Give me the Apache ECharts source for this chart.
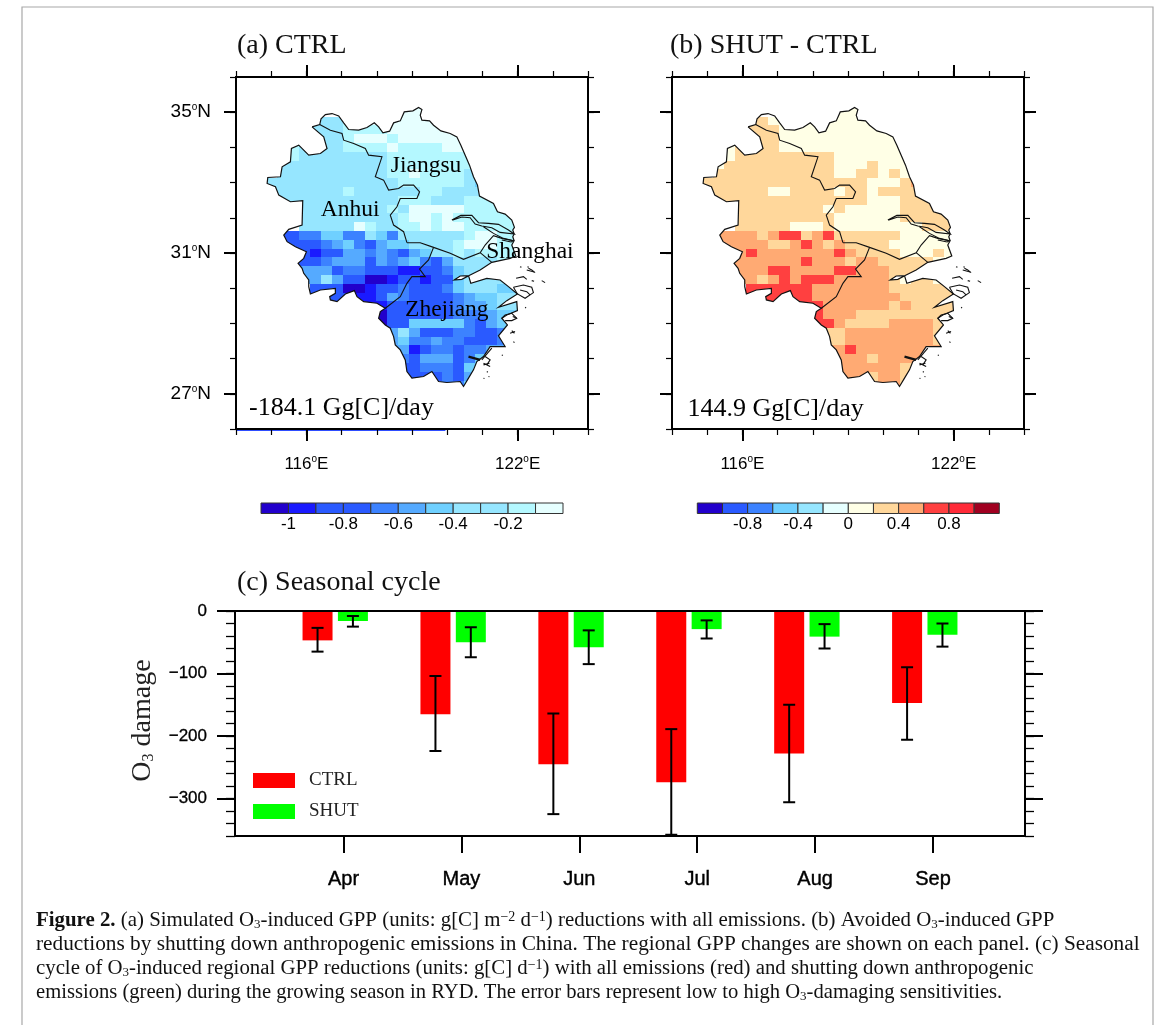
<!DOCTYPE html>
<html><head><meta charset="utf-8">
<style>html,body{margin:0;padding:0;background:#fff}#c{width:1171px;height:1025px}</style>
<script src="https://cdn.jsdelivr.net/npm/echarts@6/dist/echarts.min.js"></script>
</head><body><div id="c"></div>
<script>
// ---------- bar panel data ----------
const months = ['Apr','May','Jun','Jul','Aug','Sep'];
const monthNumbers = [4,5,6,7,8,9];
const ctrlX = [3.78,4.78,5.78,6.78,7.78,8.78];
const shutX = [4.08,5.08,6.08,7.08,8.08,9.08];
const ctrl = [-47,-165,-245,-274,-228,-147];
const ctrlHigh = [-27,-104,-164,-189,-150,-90];
const ctrlLow = [-65,-224,-325,-358,-306,-206];
const shut = [-16,-50,-58,-29,-41,-38];
const shutHigh = [-8,-26,-31,-15,-21,-20];
const shutLow = [-25,-74,-85,-44,-60,-57];
const yMajor = [-300,-200,-100,0];

// ---------- map grid data: one string per 0.25 deg row, one letter per 0.3125 deg column ----------
const firstLat = 35, firstLon = 115, dLat = 0.25, dLon = 0.3125;
const ctrlRows = [
"............www........",
"....cccllwwwwwwww......",
"....cccllllwwwwwwww....",
"....ccclwwwlwwwwwww....",
"..lccccllllwllllwww....",
"..lccccccccllllllll....",
".cccccccccclllllllll...",
".ccccccccccllwllllcc...",
"ccccccccccccllllllcs...",
"ccccccclccccccllcccc...",
".ccccccccccclllccclll..",
"...cccccccclcwwwwwllll.",
"...ccccccccclwwlwllllll",
"...cccccwlccllwlwwlllll",
".ddbbssbbcsbcccccclwwll",
".ddddbmsbdmsscccclwwwll",
"..ddeddmmbmbdmscclcllll",
"...ddbmmmdmbmsbdmccccll",
"...mmmdbbdddeeddbsccc..",
"...mmcmddiieddeddsccccc",
"....dddiieddbdddbscccss",
".....dddeedmbddddbmsscc",
".........eeddddddbmmscc",
"..........iddddddbbbmss",
"..........iddsssssbdms.",
"..........mmcmdddbbddb.",
"...........msbbmbbdddb.",
"...........mmedbbdbbmm.",
"............bdmmmdbss..",
"............ddbbbdss...",
"............ddddbdmm...",
"...............bbbs...."];
const shutRows = [
"............yyy........",
"....ttyyyyyyyyyyy......",
"....tttyyyyyyyyyyyy....",
"....tttyyyyyyyyyyyy....",
"..yttttyyyyyyyyyyyy....",
"..y ttttttttt yyyyyyy....",
". y tttttttttt yyy t yyyy ...",
". ttttttttttt yy tt y t yy ...",
"ttttttttttttttt yyy t o ...",
"tttttt yy tttt y tt y tttt ...",
". tttttttttttttt yyy ttt ..",
"... tttttttt y t yyyyy tttt .",
"... ttttttttt yyyyyy ttttt",
"... ttttt yyy t yyyyyyyy ttt",
". oooo t o rr t o r t ttttt yyyyy",
". ooooo tt o r o t o tttt yyyyyy",
".. oo r ooooooo r o tttt yyy t y",
"... oooooo r ooo t oo ttttt yy",
"... ooo rr oooo rr ooo tttt ..",
"... oo t o r o rrr ooooo t y tt y t",
".... rrrrrr ooooooo tttttt",
"..... rrrrr oooooooo ttttt",
"......... rr oooooo t o tttt",
".......... r ooo ttttttttt",
".......... rr o tttt oooo t .",
"........... tt oooooooo t .",
"........... tt oooooooo t .",
"........... oo r oooooooo .",
"............ ooo t oooo ...",
"............ oooooo tt ...",
"............ ooo t oo tt ...",
"............... ooo t ...."];
const ctrlClassValue = {i:-1.05,e:-0.95,d:-0.75,b:-0.65,m:-0.55,s:-0.45,c:-0.3,l:-0.15,w:-0.05};
const shutClassValue = {y:0.1,t:0.3,o:0.5,r:0.7};

// ---------- colour bars ----------
const ctrlBarLevels = [-1.1,-1,-0.9,-0.8,-0.7,-0.6,-0.5,-0.4,-0.3,-0.2,-0.1];
const ctrlBarColors = ['#2200cc','#1a1aff','#2a5aff','#2a5aff','#3c82ff','#55aaff','#6fd0ff','#96e6ff','#96e6ff','#b4f8ff','#e6ffff'];
const ctrlBarTicks = [-1,-0.8,-0.6,-0.4,-0.2];
const shutBarLevels = [-1.2,-1,-0.8,-0.6,-0.4,-0.2,0,0.2,0.4,0.6,0.8,1];
const shutBarColors = ['#2200cc','#2a5aff','#3c82ff','#6fd0ff','#96e6ff','#e6ffff','#ffffe6','#ffd79b','#ffaa73','#ff4040','#ff2a38','#a00020'];
const shutBarTicks = [-0.8,-0.4,0,0.4,0.8];

// ---------- geography, digitised in map units (georeferenced by mapToGeo below) ----------
const coast = [[245,170],[268,163],[272,146],[285,133],[305,130],[325,137],[340,158],[355,178],[385,180],[410,172],[432,158],[445,170],[458,188],[478,183],[490,158],[510,152],[522,125],[548,122],[565,112],[575,118],[570,135],[575,150],[598,152],[610,165],[632,182],[660,190],[680,200],[692,225],[705,255],[718,285],[730,320],[742,345],[748,378],[790,400],[802,425],[825,432],[845,450],[853,472],[848,480],[852,492],[848,500],[852,512],[845,525],[857,558],[840,565],[785,577],[750,600],[720,615],[695,628],[672,630],[690,618],[715,617],[722,640],[770,625],[810,630],[835,650],[862,672],[830,692],[805,712],[860,695],[862,722],[830,735],[815,745],[832,765],[805,798],[825,830],[780,830],[760,860],[740,875],[730,900],[715,925],[700,950],[690,935],[650,938],[625,935],[605,905],[580,920],[545,925],[530,905],[525,870],[510,840],[495,825],[490,800],[480,775],[465,765],[445,745],[450,725],[465,715],[440,700],[400,695],[380,680],[372,662],[345,672],[320,695],[300,690],[298,680],[315,670],[315,655],[270,660],[240,672],[235,650],[235,630],[220,610],[215,595],[203,580],[220,565],[228,545],[195,530],[170,515],[160,495],[175,478],[215,465],[217,392],[180,395],[145,375],[135,350],[110,340],[112,322],[150,320],[155,290],[180,275],[183,235],[205,225],[235,255],[270,250],[290,235],[280,200],[245,170]];
const borders = [
 [[268,163],[300,180],[335,190],[340,210],[370,220],[405,235],[415,255],[455,260],[435,320],[460,330],[475,360],[505,355],[520,345],[550,345],[568,365],[560,385],[510,385],[500,410],[480,435],[490,465],[520,485],[530,518]],
 [[530,518],[570,518],[610,532],[660,550],[700,568],[750,548],[765,525],[790,497],[815,505],[850,512]],
 [[610,532],[595,570],[568,597],[585,620],[545,620],[530,640],[510,680],[465,715]],
 [[750,548],[785,577]],
 [[665,450],[692,436],[725,436],[745,458],[775,460],[805,463],[835,480],[852,492],[810,487],[785,473],[755,468],[735,462],[720,443],[695,441],[668,450]],
 [[760,470],[790,490],[820,505],[850,512],[843,516],[815,510]],
 [[850,652],[880,645],[905,652],[910,668],[885,685],[862,672],[850,652]],
 [[870,590],[874,592]],[[890,600],[912,606]],[[892,590],[896,592]],[[858,625],[880,620],[890,628]],[[935,632],[945,638]],[[905,632],[912,634]],
 [[885,712],[888,714]],[[845,782],[853,790]],[[850,815],[853,818]],[[815,855],[818,857]],[[760,885],[778,880]],[[770,905],[773,907]],[[775,920],[778,921]],[[760,925],[763,926]],
 [[755,870],[785,835]],[[848,740],[860,745]],
 [[815,745],[825,735],[845,730],[860,745],[845,752],[825,752]],[[840,790],[855,785]],[[765,860],[780,870],[770,885]],[[760,880],[780,890]],
 [[895,595],[905,600],[915,608]],[[870,660],[890,665],[900,675]]
];
const heavyCoast = [[[715,860],[750,870]]];
const placeNames = ['Anhui','Jiangsu','Shanghai','Zhejiang'];
const placeLon = [117.24,119.4,122.35,119.99];
const placeLat = [32.22,33.47,31.03,29.39];
const mapToGeo = p => [113.844 + p[0]/105.75, 36.191 - p[1]/105.75];

const lonRange = [114,124], latRange = [26,36];
const serif = 'Liberation Serif', sans = 'Liberation Sans';

function cellData(rows, cls){
  const out = [];
  rows.forEach((row,r)=>{
    row.replace(/ /g,'').split('').forEach((ch,c)=>{
      if(cls[ch]!==undefined) out.push([firstLon+c*dLon, firstLat-r*dLat, cls[ch]]);
    });
  });
  return out;
}
const colorOf = (v, levels, colors) => {
  let k = 0; for(let i=0;i<levels.length;i++) if(v>=levels[i]) k=i;
  return colors[k];
};
function degLabel(suffix){ return v => `{n|${v}}{s|o}{n|${suffix}}`; }
const degRich = fs => ({n:{fontFamily:sans,fontSize:fs,color:'#000',lineHeight:20},s:{fontFamily:sans,fontSize:10,color:'#000',verticalAlign:'top',lineHeight:20}});
const blackLine = {show:true,onZero:false,lineStyle:{color:'#000',width:2}};

const grids=[], xAxes=[], yAxes=[], series=[];
function rect(g){ grids.push(g); return grids.length-1; }
function addX(o){ xAxes.push(o); return xAxes.length-1; }
function addY(o){ yAxes.push(o); return yAxes.length-1; }
const noSplit = {splitLine:{show:false}};

function mapPanel(left, rows, cls, levels, colors, stat, statLon, statLat, yLabels, names){
  const box = {left:left,top:77,width:352,height:352};
  const base = {type:'value',z:10,...noSplit,axisLine:blackLine};
  // major ticks
  const g = rect(box);
  const xM = [116,122], yM = [27,31,35];
  const xb = addX({...base,gridIndex:g,position:'bottom',min:lonRange[0],max:lonRange[1],
    axisTick:{show:true,length:12,customValues:xM,lineStyle:{color:'#000',width:2}},
    axisLabel:{show:true,customValues:xM,margin:25,formatter:degLabel('E'),rich:degRich(17)}});
  addX({...base,gridIndex:g,position:'top',min:lonRange[0],max:lonRange[1],
    axisTick:{show:true,length:12,customValues:xM,lineStyle:{color:'#000',width:2}},axisLabel:{show:false}});
  const yl = addY({...base,gridIndex:g,position:'left',min:latRange[0],max:latRange[1],
    axisTick:{show:true,length:12,customValues:yM,lineStyle:{color:'#000',width:2}},
    axisLabel:{show:yLabels,customValues:yM,margin:25,formatter:degLabel('N'),rich:degRich(19)}});
  addY({...base,gridIndex:g,position:'right',min:latRange[0],max:latRange[1],
    axisTick:{show:true,length:12,customValues:yM,lineStyle:{color:'#000',width:2}},axisLabel:{show:false}});
  // minor ticks
  const g2 = rect(box);
  const minorTick = {show:true,length:6,lineStyle:{color:'#000',width:1.2}};
  addX({...base,gridIndex:g2,position:'bottom',min:lonRange[0],max:lonRange[1],interval:1,axisTick:minorTick,axisLabel:{show:false}});
  addX({...base,gridIndex:g2,position:'top',min:lonRange[0],max:lonRange[1],interval:1,axisTick:minorTick,axisLabel:{show:false}});
  addY({...base,gridIndex:g2,position:'left',min:latRange[0],max:latRange[1],interval:1,axisTick:minorTick,axisLabel:{show:false}});
  addY({...base,gridIndex:g2,position:'right',min:latRange[0],max:latRange[1],interval:1,axisTick:minorTick,axisLabel:{show:false}});

  const on = {coordinateSystem:'cartesian2d',xAxisIndex:xb,yAxisIndex:yl,silent:true};
  series.push({...on,type:'custom',z:1,data:cellData(rows,cls),encode:{x:0,y:1},clip:true,
    renderItem:(p,api)=>{
      const lo=api.value(0), la=api.value(1), v=api.value(2);
      const a=api.coord([lo-dLon/2,la+dLat/2]), b=api.coord([lo+dLon/2,la-dLat/2]);
      return {type:'rect',shape:{x:Math.round(a[0]),y:Math.round(a[1]),width:Math.round(b[0])-Math.round(a[0]),height:Math.round(b[1])-Math.round(a[1])},
        style:{fill:colorOf(v,levels,colors),stroke:null}};
    }});
  // white mask outside the coast
  series.push({...on,type:'custom',z:2,data:[[lonRange[0],latRange[1]]],encode:{x:0,y:1},
    renderItem:(p,api)=>{
      const ring=[[lonRange[0],latRange[1]],[lonRange[0],latRange[0]],[lonRange[1],latRange[0]],[lonRange[1],latRange[1]],[lonRange[0],latRange[1]]]
        .concat(coast.map(mapToGeo)).concat([[lonRange[0],latRange[1]]]);
      return {type:'polygon',shape:{points:ring.map(q=>api.coord(q))},style:{fill:'#fff',stroke:null}};
    }});
  const paths=[{pts:coast,w:1.2}].concat(borders.map(b=>({pts:b,w:1.1}))).concat(heavyCoast.map(b=>({pts:b,w:2.4})));
  series.push({...on,type:'custom',z:3,data:paths.map((_,i)=>[i,0]),encode:{},
    renderItem:(p,api)=>{
      const item=paths[p.dataIndex];
      return {type:'polyline',shape:{points:item.pts.map(q=>api.coord(mapToGeo(q)))},style:{fill:null,stroke:'#111',lineWidth:item.w}};
    }});
  const texts=[];
  if(names) placeNames.forEach((n,i)=>texts.push({t:n,lo:placeLon[i],la:placeLat[i],align:'center'}));
  texts.push({t:stat,lo:statLon,la:statLat,align:'left'});
  series.push({...on,type:'custom',z:4,data:texts.map((_,i)=>[i,0]),encode:{},
    renderItem:(p,api)=>{
      const t=texts[p.dataIndex], c=api.coord([t.lo,t.la]);
      return {type:'text',x:c[0],y:c[1],style:{text:t.t,font:`${t.align==='left'?26:23.5}px "${serif}"`,fill:'#000',align:t.align,verticalAlign:'middle'}};
    }});
  return {x:xb,y:yl};
}
mapPanel(236,ctrlRows,ctrlClassValue,ctrlBarLevels,ctrlBarColors,'-184.1 Gg[C]/day',114.37,26.6,true,true);
mapPanel(672,shutRows,shutClassValue,shutBarLevels,shutBarColors,'144.9 Gg[C]/day',114.44,26.55,false,false);
// thin blue streak under panel (a)
series.push({type:'line',xAxisIndex:0,yAxisIndex:0,z:1,clip:false,symbol:'none',silent:true,
  data:[[114,25.96],[119.95,25.96]],lineStyle:{color:'#1a3cff',width:1}});

// ---------- colour bars ----------
function colorBar(left,width,levels,colors,ticks){
  const step = levels[1]-levels[0];
  const g = rect({left:left,top:503,width:width,height:10.5});
  const xi = addX({type:'value',gridIndex:g,min:levels[0],max:levels[levels.length-1]+step,...noSplit,
    axisLine:{show:false},axisTick:{show:false},
    axisLabel:{show:true,customValues:ticks,margin:2,fontFamily:sans,fontSize:17,color:'#000',formatter:v=>String(v)}});
  const yi = addY({type:'value',gridIndex:g,min:0,max:1,show:false});
  series.push({type:'custom',xAxisIndex:xi,yAxisIndex:yi,silent:true,encode:{x:0},
    data:levels.map((l,i)=>[l,i]),
    renderItem:(p,api)=>{
      const a=api.coord([api.value(0),1]), b=api.coord([api.value(0)+step,0]);
      return {type:'rect',shape:{x:a[0],y:a[1],width:b[0]-a[0],height:b[1]-a[1]},
        style:{fill:colors[api.value(1)],stroke:'#333',lineWidth:1}};
    }});
}
colorBar(261,302,ctrlBarLevels,ctrlBarColors,ctrlBarTicks);
colorBar(697.3,302,shutBarLevels,shutBarColors,shutBarTicks);

// ---------- seasonal cycle ----------
const barBox = {left:235,top:611,width:790,height:225};
const g5 = rect(barBox);
const xRange={min:3.08,max:9.78}, yRange={min:-360,max:0};
const thick={color:'#000',width:2};
const bx = addX({type:'value',gridIndex:g5,position:'bottom',...xRange,...noSplit,z:10,axisLine:blackLine,
  axisTick:{show:true,length:17,customValues:monthNumbers,lineStyle:thick},
  axisLabel:{show:true,customValues:monthNumbers,margin:33,fontFamily:sans,fontSize:20,color:'#000',textBorderColor:'#000',textBorderWidth:0.4,formatter:v=>months[monthNumbers.indexOf(v)]}});
addX({type:'value',gridIndex:g5,position:'top',...xRange,...noSplit,z:10,axisLine:blackLine,axisTick:{show:false},axisLabel:{show:false}});
const by = addY({type:'value',gridIndex:g5,position:'left',...yRange,...noSplit,z:10,axisLine:blackLine,
  axisTick:{show:true,length:18,customValues:yMajor,lineStyle:thick},
  axisLabel:{show:true,customValues:yMajor,margin:28,fontFamily:sans,fontSize:17,color:'#000',textBorderColor:'#000',textBorderWidth:0.3,formatter:v=>String(v).replace('-','\u2212')},
  name:'{a|O}{b|3}{a| damage}',nameLocation:'middle',nameGap:78,nameRotate:90,
  nameTextStyle:{padding:[0,0,0,6],rich:{a:{fontFamily:serif,fontSize:28,color:'#222'},b:{fontFamily:serif,fontSize:16,color:'#222',verticalAlign:'bottom'}}}});
addY({type:'value',gridIndex:g5,position:'right',...yRange,...noSplit,z:10,axisLine:blackLine,
  axisTick:{show:true,length:18,customValues:yMajor,lineStyle:thick},axisLabel:{show:false}});
const g6 = rect(barBox);
const minorBar={show:true,length:9,lineStyle:{color:'#000',width:1.3}};
addY({type:'value',gridIndex:g6,position:'left',...yRange,interval:20,...noSplit,axisLine:blackLine,axisTick:minorBar,axisLabel:{show:false}});
addY({type:'value',gridIndex:g6,position:'right',...yRange,interval:20,...noSplit,axisLine:blackLine,axisTick:minorBar,axisLabel:{show:false}});
addX({type:'value',gridIndex:g6,...xRange,...noSplit,axisLine:{show:false},axisTick:{show:false},axisLabel:{show:false}});

const barCommon={type:'bar',xAxisIndex:bx,yAxisIndex:by,barWidth:30,barGap:'-100%',silent:true,z:2};
series.push({...barCommon,name:'CTRL',itemStyle:{color:'#ff0000'},data:ctrl.map((v,i)=>[ctrlX[i],v])});
series.push({...barCommon,name:'SHUT',itemStyle:{color:'#00ff00'},data:shut.map((v,i)=>[shutX[i],v])});
function errorBars(xs,hi,lo){
  series.push({type:'custom',xAxisIndex:bx,yAxisIndex:by,z:5,silent:true,clip:false,encode:{x:0,y:[1,2]},
    data:xs.map((x,i)=>[x,hi[i],lo[i]]),
    renderItem:(p,api)=>{
      const t=api.coord([api.value(0),api.value(1)]), b=api.coord([api.value(0),api.value(2)]);
      const st={stroke:'#000',lineWidth:2,fill:null};
      return {type:'group',children:[
        {type:'line',shape:{x1:t[0],y1:t[1],x2:b[0],y2:b[1]},style:st},
        {type:'line',shape:{x1:t[0]-6,y1:t[1],x2:t[0]+6,y2:t[1]},style:st},
        {type:'line',shape:{x1:b[0]-6,y1:b[1],x2:b[0]+6,y2:b[1]},style:st}]};
    }});
}
errorBars(ctrlX,ctrlHigh,ctrlLow);
errorBars(shutX,shutHigh,shutLow);

// ---------- text ----------
const capRich=fs=>({b:{fontFamily:serif,fontSize:fs,fontWeight:'bold',color:'#111'},
  s:{fontFamily:serif,fontSize:13,color:'#111',verticalAlign:'bottom'},
  u:{fontFamily:serif,fontSize:14,color:'#111',verticalAlign:'top'}});
const captionLines=[
 '{b|Figure 2.} (a) Simulated O{s|3}-induced GPP (units: g[C] m{u|\u22122} d{u|\u22121}) reductions with all emissions. (b) Avoided O{s|3}-induced GPP',
 'reductions by shutting down anthropogenic emissions in China. The regional GPP changes are shown on each panel. (c) Seasonal',
 'cycle of O{s|3}-induced regional GPP reductions (units: g[C] d{u|\u22121}) with all emissions (red) and shutting down anthropogenic',
 'emissions (green) during the growing season in RYD. The error bars represent low to high O{s|3}-damaging sensitivities.'];
const captionSizes=[20.87,21.3,20.8,20.6];
const titles=[
 {text:'(a) CTRL',left:237,top:32},
 {text:'(b) SHUT - CTRL',left:670,top:32},
 {text:'(c) Seasonal cycle',left:237,top:569}
].map(t=>({...t,padding:0,textStyle:{fontFamily:serif,fontSize:28,fontWeight:'normal',color:'#111'}}));
captionLines.forEach((l,i)=>titles.push({text:l,left:36,top:910+i*24,padding:0,
  textStyle:{fontFamily:serif,fontSize:captionSizes[i],fontWeight:'normal',color:'#111',rich:capRich(captionSizes[i])}}));

const chart=echarts.init(document.getElementById('c'),null,{renderer:'canvas'});
chart.setOption({
  animation:false,backgroundColor:'#fff',
  title:titles,
  grid:grids,xAxis:xAxes,yAxis:yAxes,series:series,
  legend:{data:['CTRL','SHUT'],left:253,top:771,padding:0,orient:'vertical',icon:'rect',itemWidth:42,itemHeight:15,itemGap:12,selectedMode:false,
    textStyle:{fontFamily:serif,fontSize:19,color:'#222',padding:[0,0,0,9]}},
  graphic:[{type:'polyline',silent:true,shape:{points:[[22,1025],[22,7],[1153,7],[1153,1025]]},style:{fill:null,stroke:'#a8a8a8',lineWidth:1.2}}]
});
</script></body></html>
